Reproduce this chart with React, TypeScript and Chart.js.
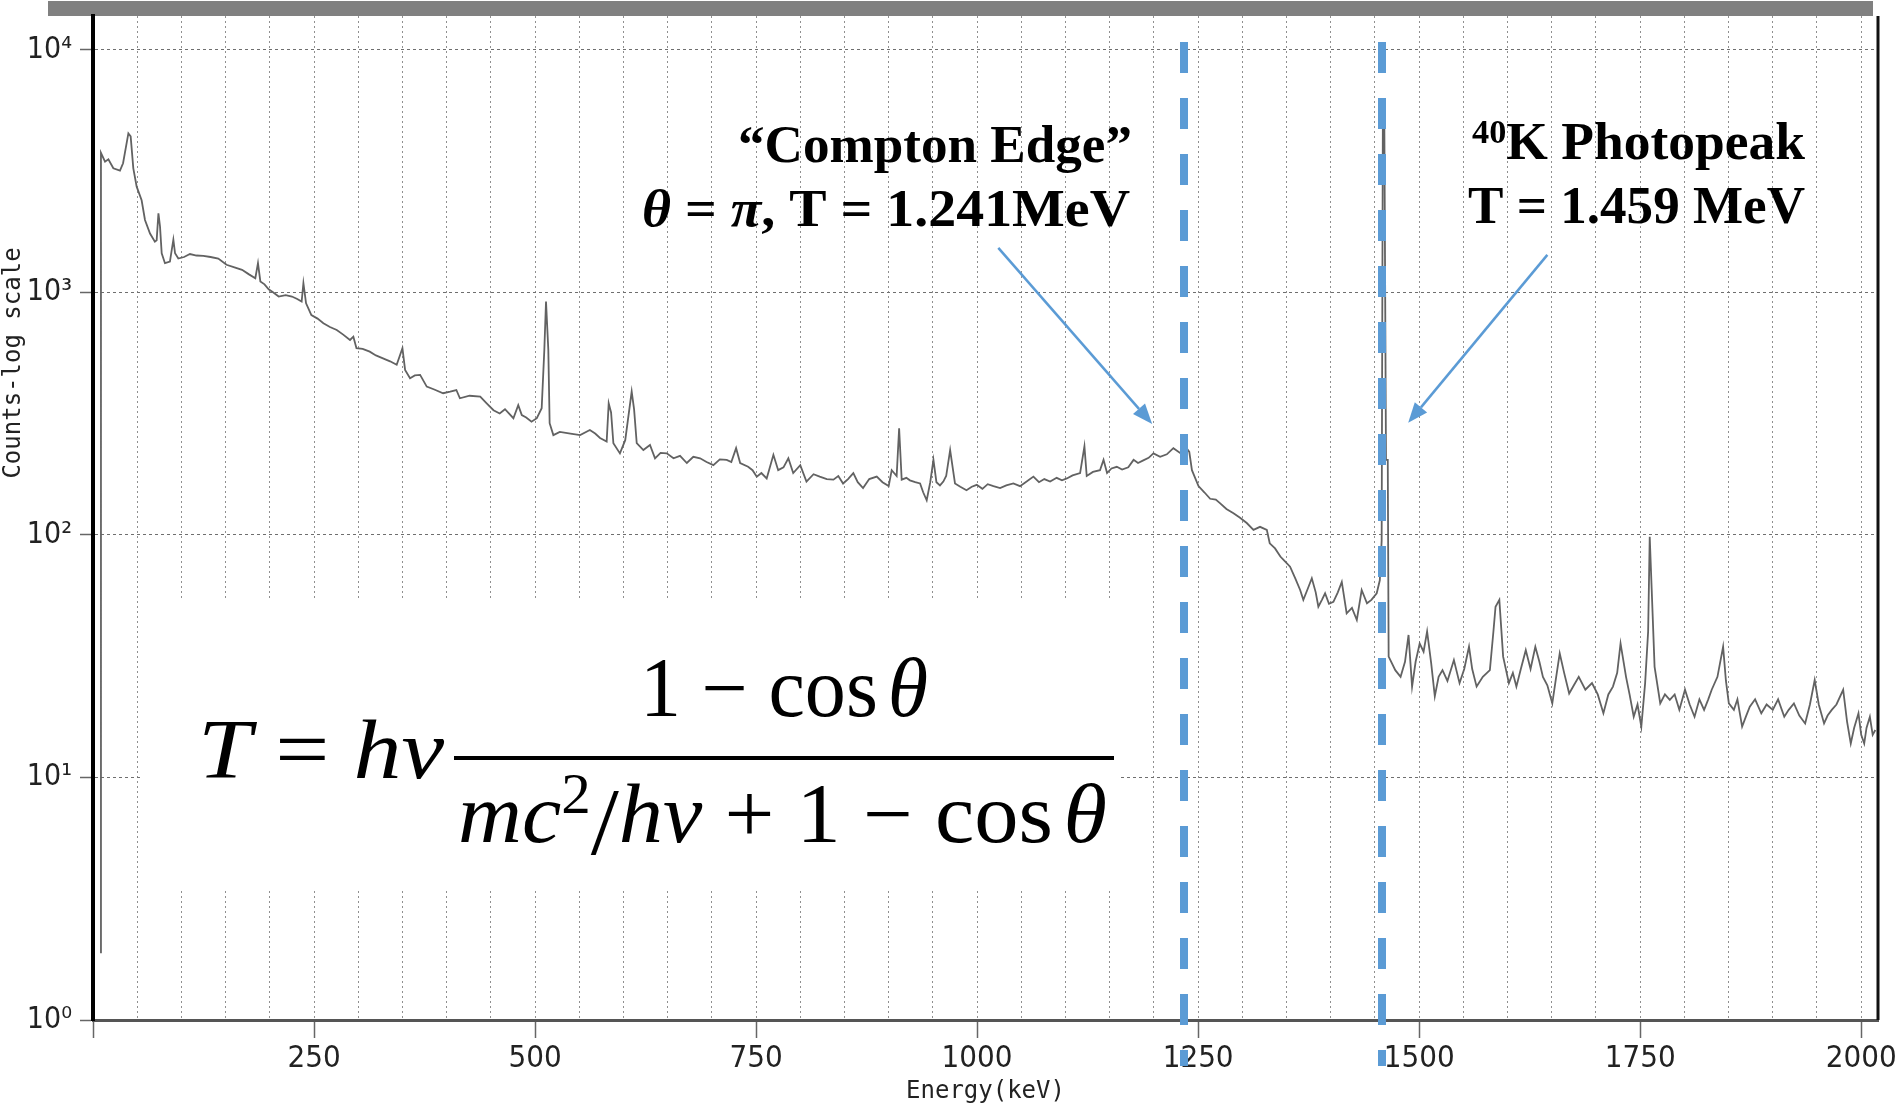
import React, { useEffect, useRef } from 'react';
import { Chart, registerables } from 'chart.js';

Chart.register(...registerables);

// ---------- DATA ----------
// Spectrum: [energy keV, counts]
const lowBand: [number, number][] = [
  [8, 1.9], [9, 3760], [13.6, 3460], [17.4, 3540], [23, 3250], [30.5, 3180], [34, 3410], [40, 4530], [42.6, 4400],
  [45.6, 3250], [49.4, 2730], [55, 2400], [58.8, 1990], [64.5, 1750], [70, 1620], [72, 1640], [74, 2120], [75.8, 1870],
  [77.7, 1450], [81.4, 1320], [87, 1340], [90.9, 1650], [92.8, 1450], [96.5, 1380], [103, 1400], [109.7, 1440],
  [117, 1420], [124.8, 1415], [133, 1400], [141.7, 1380], [151, 1300], [160, 1270], [168.6, 1240], [176, 1190],
  [183.6, 1145], [186.6, 1320], [189.3, 1110], [194, 1080], [198.7, 1030], [204, 1000], [210, 962], [218, 975],
  [225, 962], [231, 940], [236, 917], [238, 1092], [241, 902], [247, 807], [254, 780], [260.6, 746], [268, 720],
  [275.7, 700], [283, 670], [290.7, 637], [294.5, 657], [298, 589], [305, 585], [313, 570], [320, 550], [328, 535],
  [336, 520], [343.5, 503], [350, 589], [353, 479], [358.6, 443], [364, 455], [370, 457], [377.5, 409], [386, 398],
  [396, 384], [404, 390], [411, 396], [415, 366], [426, 375], [438, 372], [445, 350], [453, 327], [460, 317],
  [466, 330], [475.5, 303], [481, 343], [485, 312], [490, 305], [496, 293], [502, 303], [507.5, 333], [510.5, 580],
  [512.4, 917], [515, 580], [516.5, 289],
];
const midBand: [number, number][] = [
  [520.7, 258], [528, 266], [540, 262], [551, 258], [562, 271], [568, 262], [573.5, 251], [581, 243], [583.3, 349],
  [586, 320], [588.6, 239], [596, 217], [602, 246], [609.3, 390], [612, 330], [615, 239], [622.5, 224], [630, 235],
  [635.7, 207], [642, 218], [649, 217], [656.6, 207], [664, 212], [671.7, 198], [679, 210], [686.7, 207], [694, 200],
  [701.7, 194], [709, 205], [716.8, 204], [722, 200], [727.4, 228], [732, 198], [741, 191], [746, 185], [750.8, 174],
  [756, 180], [762, 171], [769.6, 214], [775, 185], [781, 190], [786.5, 207], [792, 180], [800, 194], [807, 166],
  [815, 178], [822, 174], [830, 170], [837.5, 169], [843, 175], [848.4, 163], [854, 170], [860, 180], [865, 165],
  [871, 156], [878, 170], [886.5, 174], [893, 165], [900, 159], [903.4, 185], [909, 175], [911.8, 275], [914.7, 169],
  [920, 172], [924, 168], [930, 165], [935.5, 163], [939, 150], [943, 139], [947, 165], [950.6, 204], [954, 165],
  [958, 160], [961.8, 166], [965, 175], [969.5, 224], [975, 163], [981, 158], [988, 153], [994, 158], [999.6, 161],
  [1006, 155], [1012, 162], [1018.5, 159], [1026, 156], [1033, 160], [1041, 163], [1048.6, 159], [1056, 166],
  [1063.7, 174], [1070, 165], [1076, 170], [1082.6, 166], [1090, 172], [1096, 168], [1101.5, 171], [1108, 176],
  [1116.5, 180], [1121.4, 232], [1124, 175], [1131, 182], [1139, 185], [1143, 204], [1147, 180], [1152, 188],
  [1158, 191], [1164, 186], [1171, 190], [1177, 204], [1182, 198], [1188, 203], [1194, 208], [1199.5, 217],
  [1207, 210], [1214.6, 215], [1222, 228], [1229.6, 218], [1237, 228], [1240, 220], [1243, 185],
];
const edgeBand: [number, number][] = [
  [1250.4, 159], [1257, 150], [1263.6, 141], [1270, 140], [1275, 135], [1282, 128], [1290, 123], [1297, 118],
  [1305, 112], [1312.6, 105], [1320, 108], [1327.7, 105], [1331, 92.4], [1337, 88], [1343, 81.5], [1348, 78],
  [1354, 74], [1360, 66], [1365.4, 59.3], [1369, 54], [1374, 60], [1378.6, 66.3], [1383, 58], [1386, 50.6],
  [1390, 54], [1393.6, 57.5], [1398, 52], [1403, 53], [1408, 58], [1412.5, 64], [1418, 47.5], [1424, 50],
  [1429.5, 44.6], [1435, 59.3], [1441, 52.3], [1446, 54], [1452, 57.5], [1455.5, 65], [1457.6, 95], [1459, 6200],
  [1460.5, 6200], [1462.5, 204], [1464.5, 204], [1465.5, 31.5],
];
const highBand: [number, number][] = [
  [1473, 27.7], [1479, 26], [1484, 30], [1488, 38.7], [1492, 23.7], [1496, 30], [1500.6, 35.7], [1505, 33],
  [1509, 40], [1513.6, 29.6], [1517.7, 21.6], [1522, 26], [1526.4, 27.7], [1532, 25], [1539.3, 30.5], [1545.7, 24.5],
  [1551, 28], [1556.4, 34.6], [1560, 28], [1565, 23.7], [1572, 26], [1580, 27.7], [1584, 40], [1586.4, 50.6],
  [1590.7, 54], [1595, 31.5], [1601.5, 24.5], [1606, 27], [1610, 23.7], [1615, 28], [1620.6, 33.5], [1626, 28],
  [1631.4, 34.6], [1636, 30], [1640, 26], [1645, 24], [1650.6, 20.2], [1655, 26], [1659, 32.5], [1664, 27],
  [1669.7, 22.2], [1675, 24], [1680.5, 26], [1688, 23], [1695.5, 24.5], [1702, 22], [1708.4, 18.4], [1714, 22],
  [1719.2, 23.7], [1724, 27], [1727.8, 35.7], [1734, 26], [1738, 22], [1742.7, 17.8], [1747, 20], [1751.3, 16.2],
  [1755.6, 24.5], [1759, 40], [1760.8, 98.4], [1763, 60], [1766.3, 28.6], [1772.7, 20.2], [1778, 22], [1783.5, 20.9],
  [1789, 22], [1794.3, 19], [1800.7, 23], [1806, 20], [1811.5, 17.8], [1817, 21], [1822.3, 19], [1827, 21],
  [1830.9, 23], [1837.4, 26], [1843.8, 34.6], [1847, 25], [1850.3, 20.2], [1856, 19], [1860, 21], [1865.3, 16.2],
  [1870, 18], [1874, 19.6], [1880, 21], [1887, 18.4], [1893, 20], [1900, 19], [1906, 21], [1913, 17.8], [1918, 19],
  [1923.9, 20.2], [1930, 18], [1936.6, 16.7], [1942, 20], [1947.4, 25.2], [1952, 20], [1958, 16.7], [1962, 18],
  [1966.7, 19], [1972, 20], [1979.6, 23], [1984, 17], [1988.2, 13.8], [1992, 16], [1996.9, 18.4], [2000, 15],
  [2003.4, 13.8], [2006, 16], [2009.8, 17.8], [2013, 15], [2016, 15.7],
];

// Axes
const X_MIN_KEV = 0;
const X_MAX_KEV = 2019;
const X_GRID_STEP_KEV = 50;
const X_LABEL_STEP_KEV = 250;
const Y_MIN_COUNTS = 1;
const Y_MAX_COUNTS = 13800;
const yDecadeExponents = [0, 1, 2, 3, 4];
const superscripts = ['⁰', '¹', '²', '³', '⁴'];
const xAxisTitle = 'Energy(keV)';
const yAxisTitle = 'Counts-log scale';

// Reference lines and annotation arrows (data units)
const markerLinesKeV = [1234, 1458];
const arrowTailKeV = [1024, 1645];
const arrowTailCounts = [1527, 1428];
const arrowTipKeV = [1198, 1487.6];
const arrowTipCounts = [287, 290];

// Annotation texts
const comptonLine1 = '“Compton Edge”';
const comptonTheta = 'θ';
const comptonPi = 'π';
const comptonRest = ', T = 1.241MeV';
const kSuper = '40';
const kLine1 = 'K Photopeak';
const kLine2 = 'T = 1.459 MeV';

// ---------- STYLE ----------
const SERIF = '"Liberation Serif", "Times New Roman", serif';
const NARROW = '"Liberation Sans Narrow", "Arial Narrow", "DejaVu Sans Condensed", "Liberation Sans", sans-serif';
const MONO = '"DejaVu Sans Mono", monospace';
const BLUE = '#5B9BD5';

type Seg = { t: string; font: string; dy?: number };

function drawFitted(ctx: CanvasRenderingContext2D, segs: Seg[], left: number, right: number, baseline: number) {
  const widths: number[] = [];
  let total = 0;
  for (const s of segs) {
    ctx.font = s.font;
    const w = ctx.measureText(s.t).width;
    widths.push(w);
    total += w;
  }
  const sx = (right - left) / total;
  ctx.save();
  ctx.translate(left, baseline);
  ctx.scale(sx, 1);
  ctx.textAlign = 'left';
  ctx.textBaseline = 'alphabetic';
  ctx.fillStyle = '#000';
  let x = 0;
  segs.forEach((s, i) => {
    ctx.font = s.font;
    ctx.fillText(s.t, x, s.dy || 0);
    x += widths[i];
  });
  ctx.restore();
}

function drawArrow(ctx: CanvasRenderingContext2D, x1: number, y1: number, x2: number, y2: number) {
  const ang = Math.atan2(y2 - y1, x2 - x1);
  const headLen = 20;
  const headHalf = 8;
  const bx = x2 - headLen * Math.cos(ang);
  const by = y2 - headLen * Math.sin(ang);
  ctx.save();
  ctx.strokeStyle = BLUE;
  ctx.fillStyle = BLUE;
  ctx.lineWidth = 2.5;
  ctx.beginPath();
  ctx.moveTo(x1, y1);
  ctx.lineTo(bx, by);
  ctx.stroke();
  ctx.beginPath();
  ctx.moveTo(x2, y2);
  ctx.lineTo(bx + headHalf * Math.sin(ang), by - headHalf * Math.cos(ang));
  ctx.lineTo(bx - headHalf * Math.sin(ang), by + headHalf * Math.cos(ang));
  ctx.closePath();
  ctx.fill();
  ctx.restore();
}

const decorPlugin = {
  id: 'decor',
  beforeDraw(chart: any) {
    const ctx = chart.ctx as CanvasRenderingContext2D;
    ctx.save();
    ctx.fillStyle = '#fff';
    ctx.fillRect(0, 0, chart.width, chart.height);
    ctx.fillStyle = '#808080';
    ctx.fillRect(48, 1, 1825, 15);
    ctx.restore();
  },
  beforeDatasetsDraw(chart: any) {
    const ctx = chart.ctx as CanvasRenderingContext2D;
    ctx.save();
    ctx.fillStyle = '#fff';
    ctx.fillRect(143, 600, 977, 290);
    ctx.restore();
  },
  afterDraw(chart: any) {
    const ctx = chart.ctx as CanvasRenderingContext2D;
    const { chartArea } = chart;
    const xs = chart.scales.x;
    const ys = chart.scales.y;

    // right frame
    ctx.save();
    ctx.strokeStyle = '#111';
    ctx.lineWidth = 3;
    ctx.beginPath();
    ctx.moveTo(chartArea.right, chartArea.top);
    ctx.lineTo(chartArea.right, chartArea.bottom);
    ctx.stroke();
    ctx.restore();

    // y axis title
    ctx.save();
    ctx.translate(14, 363);
    ctx.rotate(-Math.PI / 2);
    ctx.font = `24px ${MONO}`;
    ctx.fillStyle = '#222';
    ctx.textAlign = 'center';
    ctx.textBaseline = 'middle';
    ctx.fillText(yAxisTitle, 0, 0);
    ctx.restore();

    // formula
    const FI = `italic 84px ${SERIF}`;
    const FU = `84px ${SERIF}`;
    drawFitted(ctx, [{ t: 'T', font: FI }, { t: ' = ', font: FU }, { t: 'hν', font: FI }], 198, 444, 778);
    ctx.save();
    ctx.fillStyle = '#000';
    ctx.fillRect(454, 756, 660, 4);
    ctx.restore();
    drawFitted(ctx, [
      { t: '1', font: FU }, { t: ' − ', font: FU }, { t: 'cos', font: FU }, { t: ' ', font: `40px ${SERIF}` }, { t: 'θ', font: FI },
    ], 640, 928, 716);
    drawFitted(ctx, [
      { t: 'mc', font: FI }, { t: '2', font: `56px ${SERIF}`, dy: -29 }, { t: '/', font: `96px ${SERIF}`, dy: 12 },
      { t: 'hν', font: FI }, { t: ' + ', font: FU }, { t: '1', font: FU }, { t: ' − ', font: FU }, { t: 'cos', font: FU },
      { t: ' ', font: `40px ${SERIF}` }, { t: 'θ', font: FI },
    ], 458, 1107, 842);

    // annotations
    const FB = `bold 53px ${SERIF}`;
    const FBI = `italic bold 53px ${SERIF}`;
    drawFitted(ctx, [{ t: comptonLine1, font: FB }], 738, 1132, 162);
    drawFitted(ctx, [
      { t: comptonTheta, font: FBI }, { t: ' = ', font: FB }, { t: comptonPi, font: FBI }, { t: comptonRest, font: FB },
    ], 642, 1130, 226);
    drawFitted(ctx, [{ t: kSuper, font: `bold 34px ${SERIF}`, dy: -16 }, { t: kLine1, font: FB }], 1472, 1805, 159);
    drawFitted(ctx, [{ t: kLine2, font: FB }], 1468, 1805, 223);

    // arrows
    for (let i = 0; i < arrowTailKeV.length; i++) {
      drawArrow(
        ctx,
        xs.getPixelForValue(arrowTailKeV[i]), ys.getPixelForValue(arrowTailCounts[i]),
        xs.getPixelForValue(arrowTipKeV[i]), ys.getPixelForValue(arrowTipCounts[i]),
      );
    }

    // dashed marker lines
    ctx.save();
    ctx.strokeStyle = BLUE;
    ctx.lineWidth = 8;
    ctx.setLineDash([31, 25]);
    for (const e of markerLinesKeV) {
      const px = Math.round(xs.getPixelForValue(e));
      ctx.beginPath();
      ctx.moveTo(px, 42);
      ctx.lineTo(px, 1066);
      ctx.stroke();
    }
    ctx.restore();
  },
};

export default function App() {
  const ref = useRef<HTMLCanvasElement>(null);
  useEffect(() => {
    const canvas = ref.current;
    if (!canvas) return;
    const spectrum = [...lowBand, ...midBand, ...edgeBand, ...highBand].map(([x, y]) => ({ x, y }));
    const chart = new Chart(canvas, {
      type: 'line',
      data: {
        datasets: [{
          data: spectrum,
          borderColor: '#626262',
          borderWidth: 1.8,
          pointRadius: 0,
          tension: 0,
          fill: false,
        }],
      },
      options: {
        animation: false,
        responsive: false,
        devicePixelRatio: 1,
        events: [],
        layout: { padding: { top: 16, right: 17, left: 0, bottom: 0 } },
        plugins: { legend: { display: false }, tooltip: { enabled: false }, title: { display: false } },
        scales: {
          x: {
            type: 'linear',
            min: X_MIN_KEV,
            max: X_MAX_KEV,
            afterFit: (s: any) => { s.height = 93; s.paddingLeft = 0; s.paddingRight = 0; },
            ticks: {
              stepSize: X_GRID_STEP_KEV,
              includeBounds: false,
              autoSkip: false,
              maxRotation: 0,
              minRotation: 0,
              padding: 2,
              color: '#222',
              font: { family: NARROW, size: 31, lineHeight: 1.2 },
              callback: (v: any) => (Number(v) > 0 && Number(v) % X_LABEL_STEP_KEV === 0 ? String(v) : ''),
            },
            grid: {
              color: '#8f8f8f',
              lineWidth: 1,
              tickLength: 18,
              tickWidth: 1.5,
              tickBorderDash: [],
              tickColor: (c: any) => (c.tick && c.tick.value % X_LABEL_STEP_KEV === 0 ? '#666' : 'rgba(0,0,0,0)'),
            },
            border: { display: true, color: '#555', width: 3, dash: [2, 3] },
            title: {
              display: true,
              text: xAxisTitle,
              color: '#222',
              font: { family: MONO, size: 24 },
              padding: { top: 0, bottom: 7 },
            },
          },
          y: {
            type: 'logarithmic',
            min: Y_MIN_COUNTS,
            max: Y_MAX_COUNTS,
            afterBuildTicks: (s: any) => { s.ticks = yDecadeExponents.map((e) => ({ value: Math.pow(10, e) })); },
            afterFit: (s: any) => { s.width = 93; s.paddingTop = 0; s.paddingBottom = 0; },
            ticks: {
              padding: 8,
              color: '#222',
              font: { family: NARROW, size: 30, lineHeight: 1 },
              callback: (v: any) => {
                const e = Math.round(Math.log10(Number(v)));
                return '10' + (superscripts[e] || '');
              },
            },
            grid: {
              color: '#6f6f6f',
              lineWidth: 1,
              tickLength: 13,
              tickWidth: 1.5,
              tickBorderDash: [],
              tickColor: '#666',
            },
            border: { display: true, color: '#000', width: 4, dash: [3, 3] },
          },
        },
      },
      plugins: [decorPlugin],
    } as any);
    return () => chart.destroy();
  }, []);

  return (
    <div style={{ position: 'fixed', left: 0, top: 0, width: 1895, height: 1113, background: '#fff' }}>
      <canvas ref={ref} width={1895} height={1113} style={{ display: 'block' }} />
    </div>
  );
}
